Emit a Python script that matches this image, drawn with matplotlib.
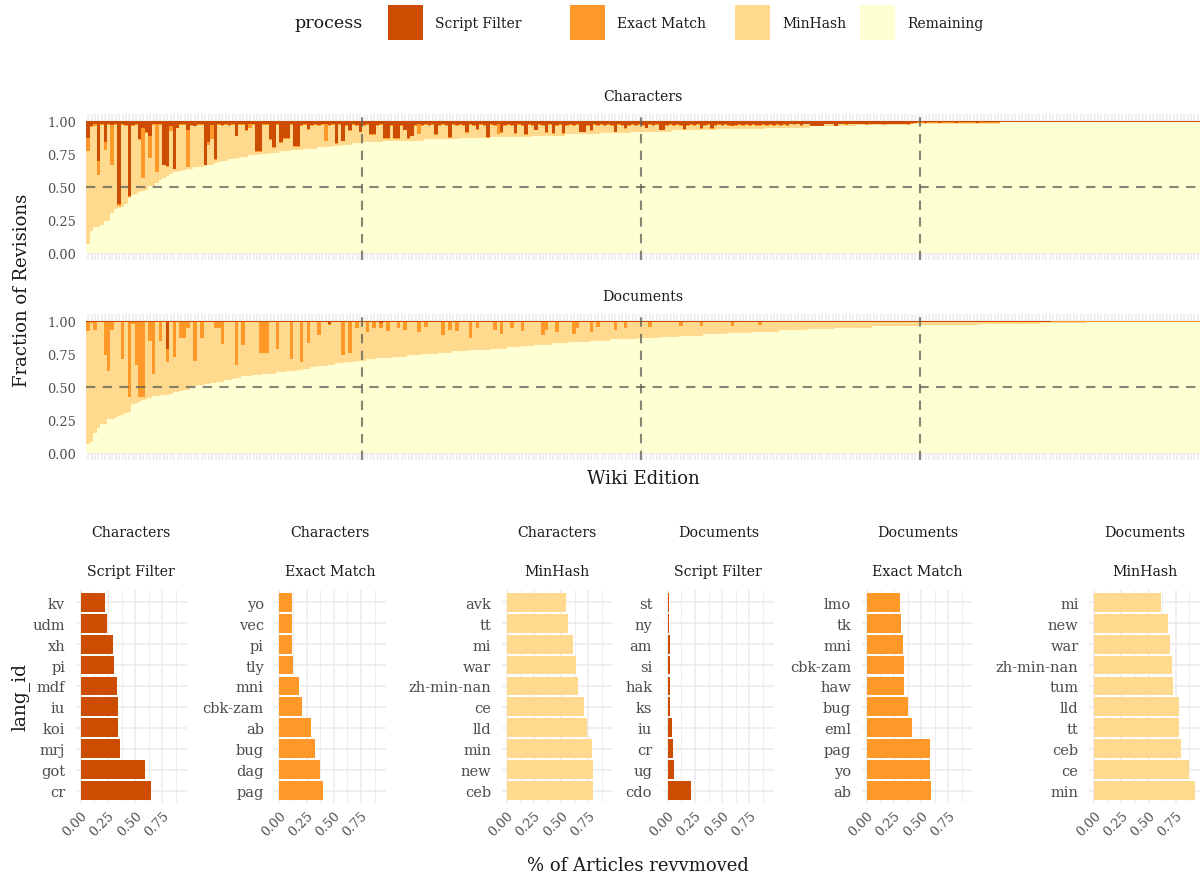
import numpy as np
import matplotlib.pyplot as plt
from matplotlib.patches import Rectangle

plt.rcParams['font.family'] = ['DejaVu Serif']

W, H = 1201, 878

processes = ['Script Filter', 'Exact Match', 'MinHash', 'Remaining']
colors = ['#CC4C02', '#FE9929', '#FED98E', '#FFFFD4']

# top panels, percent per wiki edition (sorted by remaining share)
chars_remaining = [
    7, 17, 20, 20, 21, 24, 24, 30, 33, 34, 35, 37, 42, 44, 45, 46, 47, 48, 51, 51,
    53, 55, 57, 58, 60, 61, 61, 62, 63, 64, 64, 65, 65, 65, 66, 67, 67, 68, 69, 70,
    70, 71, 71, 72, 72, 73, 73, 74, 74, 74, 75, 75, 75, 76, 76, 76, 77, 77, 77, 78,
    78, 78, 78, 79, 79, 79, 79, 80, 80, 80, 80, 81, 81, 81, 82, 82, 82, 83, 83, 83,
    84, 84, 84, 84, 84, 84, 85, 85, 85, 85, 85, 85, 85, 85, 85, 85, 85, 85, 86, 86,
    86, 86, 86, 86, 86, 86, 86, 86, 87, 87, 87, 87, 87, 87, 87, 87, 87, 88, 88, 88,
    88, 88, 88, 88, 88, 88, 88, 88, 88, 89, 89, 89, 89, 89, 89, 89, 89, 89, 89, 90,
    90, 90, 90, 90, 90, 90, 90, 90, 90, 91, 91, 91, 91, 91, 91, 91, 91, 91, 92, 92,
    92, 92, 92, 92, 92, 92, 92, 92, 92, 92, 93, 93, 93, 93, 93, 93, 93, 93, 93, 93,
    93, 93, 93, 94, 94, 94, 94, 94, 94, 94, 94, 94, 94, 94, 94, 94, 94, 95, 95, 95,
    95, 95, 95, 95, 95, 95, 95, 95, 95, 95, 96, 96, 96, 96, 96, 96, 96, 96, 96, 96,
    96, 96, 96, 97, 97, 97, 97, 97, 97, 97, 97, 97, 97, 97, 97, 97, 97, 97, 97, 98,
    98, 98, 98, 98, 98, 98, 98, 98, 98, 98, 98, 98, 98, 98, 98, 98, 98, 98, 98, 98,
    98, 98, 98, 98, 98, 99, 99, 99, 99, 99, 99, 99, 99, 99, 99, 99, 99, 99, 99, 99,
    99, 99, 99, 99, 99, 99, 99, 99, 99, 99, 99, 99, 99, 99, 99, 99, 99, 99, 99, 99,
    99, 99, 99, 99, 99, 99, 99, 99, 99, 99, 99, 99, 99, 99, 99, 99, 99, 99, 99, 99,
    99, 99, 99,
]
chars_script = [
    13, 3.5, 2.5, 30, 2.5, 16, 2.5, 3, 2.5, 63, 2.5, 3, 57, 3, 2.5, 14, 5.5, 8, 11, 2.5,
    2.5, 2.5, 33, 34, 3.5, 36, 5, 2.5, 2.5, 6.5, 3, 3.5, 2.5, 2.5, 33, 16, 3, 29, 2.5, 3,
    2.5, 3, 2.5, 11, 2.5, 2.5, 7, 2.5, 2.5, 23, 23, 2.5, 2.5, 14, 20, 2.5, 16, 13, 13, 2.5,
    19, 19, 3, 2.5, 6, 3, 2.5, 3, 2.5, 2, 3, 2.5, 17, 2.5, 15, 3, 7, 2.5, 3, 8,
    3, 2.5, 10, 10, 3, 2.5, 13, 13, 3, 13, 13, 3, 6.5, 13, 11, 3, 2, 3, 2.5, 3,
    2.5, 10, 3, 2.5, 3, 12, 2.5, 3, 2.5, 3, 8.5, 2.5, 3, 6, 2.5, 3, 12, 2.5, 3, 2,
    8.5, 3, 2.5, 3, 9, 2.5, 3, 10, 2.5, 3, 6.5, 2.5, 3, 8.5, 2.5, 9, 3, 2.5, 9, 3,
    2.5, 3, 2.5, 8, 8, 3, 7, 2.5, 3, 2.5, 3, 2.5, 3, 8, 2.5, 3, 5.5, 3, 2.5, 3,
    2.5, 3, 5, 2.5, 3, 2.5, 6.5, 6.5, 3, 2.5, 3, 2.5, 3, 6, 3, 2.5, 3, 2.5, 5.5, 3,
    2.5, 5.5, 3, 2.5, 3, 2.5, 3, 3.5, 3, 2.5, 3, 2.5, 3, 2.5, 3, 3, 2.5, 3, 2.5, 3,
    2.5, 3, 2.5, 3, 2, 2.5, 2, 3, 2, 2, 3.5, 3.5, 3.5, 3.5, 2, 2, 2, 3.5, 2, 2,
    2.5, 2, 2, 2, 2, 2, 2.5, 2, 2, 2, 2, 2.5, 2, 2, 2, 2, 2, 2, 2.5, 1.5,
    1.5, 1, 1, 1.5, 1, 1, 1, 1.5, 1, 1, 1, 1, 1.5, 1, 1, 1, 1, 1, 1.5, 1,
    1, 1, 1, 1, 1, 0.6, 0.6, 0.6, 0.6, 0.6, 0.6, 0.6, 0.6, 0.6, 0.6, 0.6, 0.6, 0.6, 0.6, 0.6,
    0.5, 0.5, 0.5, 0.5, 0.5, 0.5, 0.5, 0.5, 0.5, 0.5, 0.5, 0.5, 0.5, 0.5, 0.5, 0.5, 0.5, 0.5, 0.5, 0.5,
    0.5, 0.5, 0.5, 0.5, 0.5, 0.5, 0.5, 0.5, 0.5, 0.5, 0.5, 0.5, 0.5, 0.5, 0.5, 0.5, 0.5, 0.5, 0.5, 0.5,
    0.5, 0.5, 0.5,
]
chars_exact = [
    10, 1, 1, 11, 0.5, 6, 0.5, 30, 0.5, 1.5, 0.5, 0.5, 0.5, 0.5, 0.5, 0.5, 38, 1, 17, 0.5,
    36, 0.5, 0.5, 1, 4, 0.5, 0.5, 0.5, 0.5, 28, 0.5, 0.5, 0.5, 0.5, 0.5, 2, 11, 0.5, 0.5, 0.5,
    0.5, 0.5, 0.5, 0.5, 0.5, 0.5, 0.5, 3, 0.5, 0.5, 0.5, 0.5, 0.5, 0.5, 0.5, 0.5, 0.5, 0.5, 0.5, 0.5,
    0.5, 0.5, 0.5, 0.5, 0.5, 0.5, 0.5, 0.5, 0.5, 13, 0.5, 0.5, 0.5, 0.5, 0.5, 0.5, 0.5, 0.5, 0.5, 0.5,
    0.5, 0.5, 0.5, 0.5, 0.5, 0.5, 0.5, 1, 0.5, 0.5, 0.5, 0.5, 0.5, 0.5, 0.5, 0.5, 8, 0.5, 0.5, 0.5,
    0.5, 0.5, 0.5, 0.5, 0.5, 0.5, 0.5, 0.5, 0.5, 0.5, 0.5, 0.5, 0.5, 0.5, 0.5, 0.5, 0.5, 0.5, 0.5, 8,
    0.5, 0.5, 0.5, 0.5, 0.5, 0.5, 0.5, 0.5, 0.5, 0.5, 0.5, 0.5, 0.5, 0.5, 0.5, 0.5, 0.5, 0.5, 0.5, 0.5,
    0.5, 0.5, 0.5, 0.5, 0.5, 0.5, 0.5, 0.5, 0.5, 0.5, 0.5, 0.5, 0.5, 0.5, 0.5, 0.5, 0.5, 0.5, 0.5, 0.5,
    0.5, 0.5, 0.5, 0.5, 0.5, 0.5, 0.5, 0.5, 0.5, 0.5, 0.5, 0.5, 0.5, 0.5, 0.5, 0.5, 0.5, 0.5, 0.5, 0.5,
    0.5, 0.5, 0.5, 0.5, 0.5, 0.5, 0.5, 0.5, 0.5, 0.5, 0.5, 0.5, 0.5, 0.5, 0.5, 0.5, 0.5, 0.5, 0.5, 0.5,
    0.5, 0.5, 0.5, 0.5, 0.5, 0.5, 0.5, 0.5, 0.5, 0.5, 0.5, 0.5, 0.5, 0.5, 0.5, 0.5, 0.5, 0.5, 0.5, 0.5,
    0.5, 0.5, 0.5, 0.5, 0.5, 0.5, 0.5, 0.5, 0.5, 0.5, 0.5, 0.5, 0.5, 0.5, 0.5, 0.5, 0.5, 0.5, 0.5, 0.5,
    0.3, 0.3, 0.3, 0.3, 0.3, 0.3, 0.3, 0.3, 0.3, 0.3, 0.3, 0.3, 0.3, 0.3, 0.3, 0.3, 0.3, 0.3, 0.3, 0.3,
    0.3, 0.3, 0.3, 0.3, 0.3, 0.3, 0.3, 0.3, 0.3, 0.3, 0.3, 0.3, 0.3, 0.3, 0.3, 0.3, 0.3, 0.3, 0.3, 0.3,
    0.3, 0.3, 0.3, 0.3, 0.3, 0.3, 0.3, 0.3, 0.3, 0.3, 0.3, 0.3, 0.3, 0.3, 0.3, 0.3, 0.3, 0.3, 0.3, 0.3,
    0.3, 0.3, 0.3, 0.3, 0.3, 0.3, 0.3, 0.3, 0.3, 0.3, 0.3, 0.3, 0.3, 0.3, 0.3, 0.3, 0.3, 0.3, 0.3, 0.3,
    0.3, 0.3, 0.3,
]

docs_remaining = [
    7, 8, 15, 19, 22, 22, 26, 26, 26.5, 28, 29, 30, 31, 37, 38, 39, 40, 41, 42, 43,
    43, 44, 44, 44, 45, 46, 46, 47, 48, 48, 50.5, 50.5, 51.5, 51.5, 52, 52, 53, 53, 54, 54,
    55, 55, 56, 57, 57, 58, 58, 58, 59, 59, 59, 60, 60, 60, 60, 61, 61, 61, 62, 62,
    62, 63, 63, 64, 64, 65, 65, 66, 66, 66, 67, 67, 68, 68, 68, 69, 69, 69, 70, 70,
    70, 71, 71, 71, 72, 72, 72, 72, 72, 73, 73, 73, 73, 74, 74, 74, 74, 75, 75, 75,
    75, 75, 76, 76, 76, 76, 77, 77, 77, 77, 77, 78, 78, 78, 78, 78, 78, 79, 79, 79,
    79, 79, 80, 80, 80, 80, 81, 81, 81, 81, 82, 82, 82, 82, 82, 83, 83, 83, 83, 83,
    84, 84, 84, 84, 84, 84, 85, 85, 85, 85, 85, 85, 86, 86, 86, 86, 86, 86, 86, 86,
    87, 87, 87, 87, 87, 87, 88, 88, 88, 88, 88, 88, 89, 89, 89, 89, 89, 89, 89, 90,
    90, 90, 90, 90, 90, 90, 91, 91, 91, 91, 91, 91, 91, 92, 92, 92, 92, 92, 92, 92,
    92, 93, 93, 93, 93, 93, 93, 93, 93, 94, 94, 94, 94, 94, 94, 94, 94, 95, 95, 95,
    95, 95, 95, 95, 95, 95, 95, 95, 96, 96, 96, 96, 96, 96, 96, 96, 96, 96, 96, 96,
    96, 96, 97, 97, 97, 97, 97, 97, 97, 97, 97, 97, 97, 97, 97, 97, 97, 97, 97, 98,
    98, 98, 98, 98, 98, 98, 98, 98, 98, 98, 98, 98, 98, 98, 98, 98, 98, 98.5, 98.5, 98.5,
    98.5, 98.5, 98.5, 98.5, 98.5, 98.5, 98.5, 98.5, 98.5, 98.5, 99, 99, 99, 99, 99, 99, 99, 99, 99, 99,
    99, 99, 99, 99, 99, 99, 99, 99, 99, 99, 99.5, 99.5, 99.5, 99.5, 99.5, 99.5, 99.5, 99.5, 99.5, 99.5,
    99.5, 99.5, 99.5,
]
docs_script = [
    1, 0.5, 0.5, 0.5, 0.5, 0.5, 0.5, 0.5, 0.5, 0.5, 0.5, 0.5, 0.5, 1, 0.5, 0.5, 0.5, 0.5, 0.5, 0.5,
    0.5, 0.5, 0.5, 21, 0.5, 0.5, 0.5, 0.5, 0.5, 0.5, 0.5, 0.5, 0.5, 0.5, 0.5, 0.5, 0.5, 0.5, 0.5, 0.5,
    0.5, 0.5, 0.5, 0.5, 0.5, 0.5, 0.5, 0.5, 0.5, 0.5, 0.5, 0.5, 0.5, 0.5, 0.5, 0.5, 0.5, 0.5, 0.5, 0.5,
    0.5, 0.5, 0.5, 0.5, 0.5, 0.5, 0.5, 0.5, 0.5, 0.5, 2, 0.5, 0.5, 0.5, 0.5, 0.5, 0.5, 0.5, 0.5, 0.5,
    0.5, 0.5, 0.5, 0.5, 0.5, 1.5, 0.5, 0.5, 0.5, 0.5, 0.5, 0.5, 0.5, 0.5, 0.5, 0.5, 0.5, 0.5, 0.5, 0.5,
    0.5, 0.5, 0.5, 0.5, 0.5, 0.5, 0.5, 0.5, 0.5, 0.5, 0.5, 0.5, 0.5, 0.5, 0.5, 0.5, 0.5, 0.5, 0.5, 0.5,
    0.5, 0.5, 0.5, 0.5, 0.5, 0.5, 0.5, 0.5, 0.5, 0.5, 0.5, 0.5, 0.5, 0.5, 0.5, 0.5, 0.5, 0.5, 0.5, 0.5,
    0.5, 0.5, 0.5, 0.5, 0.5, 0.5, 0.5, 0.5, 0.5, 0.5, 0.5, 0.5, 0.5, 0.5, 0.5, 0.5, 0.5, 0.5, 0.5, 0.5,
    0.5, 0.5, 0.5, 0.5, 0.5, 0.5, 0.5, 0.5, 0.5, 0.5, 0.5, 0.5, 0.5, 0.5, 0.5, 0.5, 0.5, 0.5, 0.5, 0.5,
    0.5, 0.5, 0.5, 0.5, 0.5, 0.5, 0.5, 0.5, 0.5, 0.5, 0.5, 0.5, 0.5, 0.5, 0.5, 0.5, 0.5, 0.5, 0.5, 0.5,
    0.5, 0.5, 0.5, 0.5, 0.5, 0.5, 0.5, 0.5, 0.5, 0.5, 0.5, 0.5, 0.5, 0.5, 0.5, 0.5, 0.5, 0.5, 0.5, 0.5,
    0.5, 0.5, 0.5, 0.5, 0.5, 0.5, 0.5, 0.5, 0.5, 0.5, 0.5, 0.5, 0.5, 0.5, 0.5, 0.5, 0.5, 0.5, 0.5, 0.5,
    0.5, 0.5, 0.5, 0.5, 0.5, 0.5, 0.5, 0.5, 0.5, 0.5, 0.5, 0.5, 0.5, 0.5, 0.5, 0.5, 0.5, 0.5, 0.5, 0.5,
    0.5, 0.5, 0.5, 0.5, 0.5, 0.5, 0.5, 0.5, 0.5, 0.5, 0.5, 0.5, 0.5, 0.5, 0.5, 0.5, 0.5, 0.5, 0.5, 0.5,
    0.3, 0.3, 0.3, 0.3, 0.3, 0.3, 0.3, 0.3, 0.3, 0.3, 0.3, 0.3, 0.3, 0.3, 0.3, 0.3, 0.3, 0.3, 0.3, 0.3,
    0.3, 0.3, 0.3, 0.3, 0.3, 0.3, 0.3, 0.3, 0.3, 0.3, 0.3, 0.3, 0.3, 0.3, 0.3, 0.3, 0.3, 0.3, 0.3, 0.3,
    0.3, 0.3, 0.3,
]
docs_exact = [
    6.5, 1, 6.5, 0.5, 0.5, 25.5, 37, 6.5, 0.5, 0.5, 28, 0.5, 57, 1, 33, 57, 57, 0.5, 15, 40,
    0.5, 15, 0.5, 10, 0.5, 27, 0.5, 12, 12, 5, 0.5, 30, 0.5, 12, 0.5, 0.5, 0.5, 5, 5, 17,
    0.5, 0.5, 0.5, 33, 0.5, 18, 0.5, 0.5, 0.5, 0.5, 23.5, 23.5, 23.5, 0.5, 0.5, 21, 0.5, 0.5, 0.5, 28.5,
    0.5, 0.5, 30.5, 0.5, 16, 0.5, 0.5, 10, 0.5, 0.5, 1, 0.5, 0.5, 0.5, 25, 0.5, 24, 0.5, 4.5, 0.5,
    0.5, 8, 0.5, 5, 0.5, 4, 0.5, 7, 0.5, 0.5, 5, 0.5, 6, 0.5, 0.5, 0.5, 8, 0.5, 4, 0.5,
    0.5, 0.5, 0.5, 10, 0.5, 6, 0.5, 7, 0.5, 0.5, 0.5, 12, 0.5, 5, 0.5, 0.5, 0.5, 0.5, 6, 0.5,
    9, 0.5, 0.5, 5, 0.5, 0.5, 7, 0.5, 0.5, 0.5, 0.5, 0.5, 10, 6, 0.5, 0.5, 8, 0.5, 0.5, 0.5,
    0.5, 9, 5, 0.5, 0.5, 0.5, 8, 0.5, 4, 0.5, 0.5, 0.5, 0.5, 6, 0.5, 0.5, 5, 0.5, 0.5, 0.5,
    0.5, 0.5, 0.5, 4, 0.5, 0.5, 0.5, 0.5, 0.5, 0.5, 0.5, 0.5, 3, 0.5, 0.5, 0.5, 0.5, 0.5, 3, 0.5,
    0.5, 0.5, 0.5, 0.5, 0.5, 0.5, 0.5, 3, 0.5, 0.5, 0.5, 0.5, 0.5, 0.5, 0.5, 2.5, 0.5, 0.5, 0.5, 0.5,
    0.3, 0.3, 0.3, 0.3, 0.3, 0.3, 0.3, 0.3, 0.3, 0.3, 0.3, 0.3, 0.3, 0.3, 0.3, 0.3, 0.3, 0.3, 0.3, 0.3,
    0.3, 0.3, 0.3, 0.3, 0.3, 0.3, 0.3, 0.3, 0.3, 0.3, 0.3, 0.3, 0.3, 0.3, 0.3, 0.3, 0.3, 0.3, 0.3, 0.3,
    0.3, 0.3, 0.3, 0.3, 0.3, 0.3, 0.3, 0.3, 0.3, 0.3, 0.3, 0.3, 0.3, 0.3, 0.3, 0.3, 0.3, 0.3, 0.3, 0.3,
    0.3, 0.3, 0.3, 0.3, 0.3, 0.3, 0.3, 0.3, 0.3, 0.3, 0.3, 0.3, 0.3, 0.3, 0.3, 0.3, 0.3, 0.3, 0.3, 0.3,
    0.2, 0.2, 0.2, 0.2, 0.2, 0.2, 0.2, 0.2, 0.2, 0.2, 0.2, 0.2, 0.2, 0.2, 0.2, 0.2, 0.2, 0.2, 0.2, 0.2,
    0.2, 0.2, 0.2, 0.2, 0.2, 0.2, 0.2, 0.2, 0.2, 0.2, 0.1, 0.1, 0.1, 0.1, 0.1, 0.1, 0.1, 0.1, 0.1, 0.1,
    0.1, 0.1, 0.1,
]

quartile_marks = [79.5, 160.5, 241.5]

# bottom panels: top-10 editions per measure / process
cs_langs = ['kv', 'udm', 'xh', 'pi', 'mdf', 'iu', 'koi', 'mrj', 'got', 'cr']
cs_vals = [0.224, 0.24, 0.295, 0.307, 0.33, 0.344, 0.344, 0.362, 0.589, 0.644]
ce_langs = ['yo', 'vec', 'pi', 'tly', 'mni', 'cbk-zam', 'ab', 'bug', 'dag', 'pag']
ce_vals = [0.117, 0.117, 0.117, 0.126, 0.181, 0.209, 0.291, 0.328, 0.374, 0.40]
cm_langs = ['avk', 'tt', 'mi', 'war', 'zh-min-nan', 'ce', 'lld', 'min', 'new', 'ceb']
cm_vals = [0.543, 0.561, 0.607, 0.64, 0.652, 0.713, 0.735, 0.78, 0.79, 0.79]
ds_langs = ['st', 'ny', 'am', 'si', 'hak', 'ks', 'iu', 'cr', 'ug', 'cdo']
ds_vals = [0.012, 0.012, 0.021, 0.021, 0.021, 0.021, 0.04, 0.049, 0.058, 0.213]
de_langs = ['lmo', 'tk', 'mni', 'cbk-zam', 'haw', 'bug', 'eml', 'pag', 'yo', 'ab']
de_vals = [0.303, 0.312, 0.33, 0.34, 0.34, 0.376, 0.412, 0.585, 0.585, 0.594]
dm_langs = ['mi', 'new', 'war', 'zh-min-nan', 'tum', 'lld', 'tt', 'ceb', 'ce', 'min']
dm_vals = [0.619, 0.683, 0.70, 0.72, 0.729, 0.784, 0.784, 0.80, 0.875, 0.93]

TXT = '#1A1A1A'
TICK = '#4D4D4D'
GRID = '#EBEBEB'

fig = plt.figure(figsize=(W / 100, H / 100), dpi=100)


def px_axes(x0, y0, x1, y1):
    return fig.add_axes([x0 / W, 1 - y1 / H, (x1 - x0) / W, (y1 - y0) / H])


def clean(ax):
    for s in ax.spines.values():
        s.set_visible(False)
    ax.tick_params(length=0)


def stacked_panel(y0, y1, rem, script, exact, title):
    ax = px_axes(86, y0, 1200, y1)
    rem = np.array(rem) / 100
    script = np.array(script) / 100
    exact = np.array(exact) / 100
    minhash = np.clip(1 - rem - script - exact, 0, None)
    x = np.arange(len(rem))
    bottom = np.zeros(len(rem))
    for vals, c in zip([rem, minhash, exact, script], colors[::-1]):
        ax.bar(x, vals, bottom=bottom, width=1.0, color=c, linewidth=0,
               antialiased=False, zorder=2)
        bottom += vals
    ax.set_xlim(-0.6, len(x) - 0.4)
    ax.set_ylim(-0.05, 1.05)
    ax.set_xticks(x)
    ax.set_xticklabels([])
    ax.set_yticks([0, 0.25, 0.5, 0.75, 1.0])
    ax.set_yticklabels(['0.00', '0.25', '0.50', '0.75', '1.00'],
                       fontsize=9.3, color=TICK)
    ax.tick_params(axis='y', pad=7)
    ax.grid(axis='x', color=GRID, lw=1.1, zorder=0)
    ax.grid(axis='y', color=GRID, lw=1.1, zorder=0)
    ax.set_axisbelow(True)
    clean(ax)
    dash = (0, (4.5, 3.5))
    ax.axhline(0.5, color='#5E5E55', lw=1.5, ls=dash, alpha=0.75, zorder=3)
    for q in quartile_marks:
        ax.axvline(q, color='#5E5E55', lw=1.5, ls=dash, alpha=0.75, zorder=3)
    fig.text(643 / W, 1 - (y0 - 18) / H, title, ha='center', va='center',
             fontsize=10.2, color=TXT)
    return ax


stacked_panel(115.4, 260.6, chars_remaining, chars_script, chars_exact, 'Characters')
stacked_panel(315.4, 460.6, docs_remaining, docs_script, docs_exact, 'Documents')

fig.text(22 / W, 1 - 290 / H, 'Fraction of Revisions', rotation=90,
         ha='center', va='center', fontsize=13, color=TXT)
fig.text(643 / W, 1 - 479 / H, 'Wiki Edition', ha='center', va='center',
         fontsize=13, color=TXT)

# legend
fig.text(295 / W, 1 - 24 / H, 'process', ha='left', va='center',
         fontsize=12.6, color=TXT)
box_x = [388, 570, 735, 860]
for bx, c, lab in zip(box_x, colors, processes):
    fig.add_artist(Rectangle((bx / W, 1 - 41 / H), 35 / W, 35 / H,
                             transform=fig.transFigure, color=c, lw=0))
    fig.text((bx + 47) / W, 1 - 24 / H, lab, ha='left', va='center',
             fontsize=10, color=TXT)

# bottom panels
panels = [
    ('Characters', 'Script Filter', cs_langs, cs_vals, 75.6),
    ('Characters', 'Exact Match', ce_langs, ce_vals, 274.2),
    ('Characters', 'MinHash', cm_langs, cm_vals, 501.6),
    ('Documents', 'Script Filter', ds_langs, ds_vals, 662.6),
    ('Documents', 'Exact Match', de_langs, de_vals, 861.6),
    ('Documents', 'MinHash', dm_langs, dm_vals, 1089),
]
for measure, proc, langs, vals, left in panels:
    ax = px_axes(left, 590.7, left + 111.4, 804.2)
    y = np.arange(len(langs))
    ax.barh(y, vals, height=0.9, color=colors[processes.index(proc)],
            linewidth=0, zorder=2)
    ax.set_xlim(-0.047, 0.977)
    ax.set_ylim(len(langs) - 0.4, -0.6)
    ax.set_yticks(y)
    ax.set_yticklabels(langs, fontsize=10.5, color=TICK)
    ax.set_xticks([0, 0.25, 0.5, 0.75])
    ax.set_xticklabels(['0.00', '0.25', '0.50', '0.75'], fontsize=9.3,
                       color=TICK, rotation=45, ha='right', va='top',
                       rotation_mode='anchor')
    ax.set_xticks([0.125, 0.375, 0.625, 0.875], minor=True)
    ax.grid(which='major', color=GRID, lw=1.1, zorder=0)
    ax.grid(which='minor', axis='x', color=GRID, lw=0.6, zorder=0)
    ax.set_axisbelow(True)
    clean(ax)
    ax.tick_params(which='both', length=0)
    ax.tick_params(axis='y', pad=7.5)
    ax.tick_params(axis='x', pad=4)
    cx = (left + 55.7) / W
    fig.text(cx, 1 - 533 / H, measure, ha='center', va='center',
             fontsize=10.2, color=TXT)
    fig.text(cx, 1 - 572 / H, proc, ha='center', va='center',
             fontsize=10.2, color=TXT)

fig.text(20 / W, 1 - 697 / H, 'lang_id', rotation=90, ha='center',
         va='center', fontsize=13.5, color=TXT)
fig.text(638 / W, 1 - 866 / H, '% of Articles revvmoved', ha='center',
         va='center', fontsize=13, color=TXT)

fig.savefig('out.png', dpi=100)
